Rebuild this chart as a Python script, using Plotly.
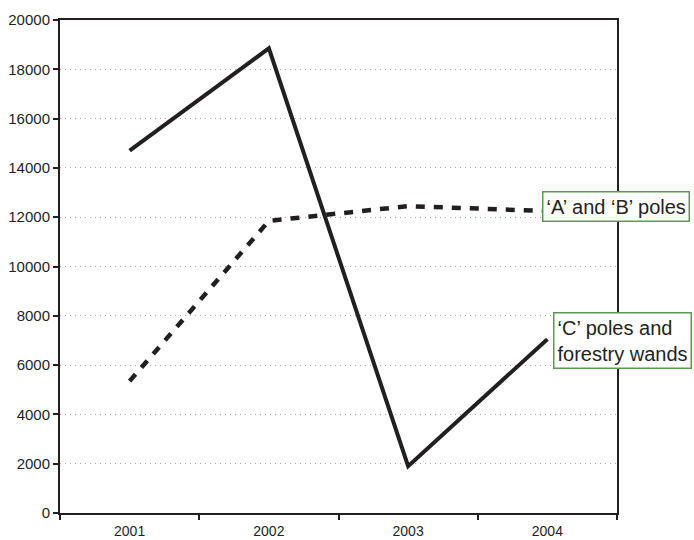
import plotly.graph_objects as go

# Output by year for the two pole grades
years = ["2001", "2002", "2003", "2004"]
c_poles_wands = [14700, 18850, 1900, 7050]
ab_poles = [5350, 11850, 12450, 12250]

y_ticks = list(range(0, 20001, 2000))

LINE_COLOR = "#231f20"
GREEN = "#5b9b4f"
FONT = "Liberation Sans, Arial, Helvetica, sans-serif"

fig = go.Figure()

fig.add_trace(go.Scatter(
    x=years, y=c_poles_wands, mode="lines",
    line=dict(color=LINE_COLOR, width=4),
    name="'C' poles and forestry wands",
))
fig.add_trace(go.Scatter(
    x=years, y=ab_poles, mode="lines",
    line=dict(color=LINE_COLOR, width=4.5, dash="9px,9px"),
    name="'A' and 'B' poles",
))

fig.update_layout(
    width=694, height=540,
    margin=dict(l=60, r=77, t=20, b=27),
    paper_bgcolor="white", plot_bgcolor="white",
    showlegend=False,
    font=dict(family=FONT, size=15, color="#231f20"),
    annotations=[
        dict(
            xref="paper", yref="paper", x=0.8655, y=0.6217,
            xanchor="left", yanchor="middle", align="left",
            text="\u2018A\u2019 and \u2018B\u2019 poles",
            showarrow=False,
            font=dict(family=FONT, size=20, color="#231f20"),
            bgcolor="white", bordercolor=GREEN, borderwidth=1.5, borderpad=3,
        ),
        dict(
            xref="paper", yref="paper", x=0.885, y=0.35,
            xanchor="left", yanchor="middle", align="left",
            text="\u2018C\u2019 poles and<br>forestry wands",
            showarrow=False,
            font=dict(family=FONT, size=20, color="#231f20"),
            bgcolor="white", bordercolor=GREEN, borderwidth=1.5, borderpad=3,
        ),
    ],
)

fig.update_xaxes(
    type="category", range=[-0.5, 3.5],
    tickson="boundaries", ticks="outside", ticklen=5, tickwidth=1.5,
    tickcolor=LINE_COLOR,
    showline=True, linecolor=LINE_COLOR, linewidth=2, mirror=True,
    showgrid=False, zeroline=False, automargin=False,
    ticklabelstandoff=4,
    tickfont=dict(size=14),
)
fig.update_yaxes(
    range=[0, 20000], tickvals=y_ticks, ticktext=[str(v) for v in y_ticks],
    ticks="outside", ticklen=5, tickwidth=1.5, tickcolor=LINE_COLOR,
    showline=True, linecolor=LINE_COLOR, linewidth=2, mirror=True,
    showgrid=True, gridcolor="#a8a8a8", gridwidth=1, griddash="1px,4px",
    zeroline=False, automargin=False,
    tickfont=dict(size=15),
)

fig.write_html("out.html")
